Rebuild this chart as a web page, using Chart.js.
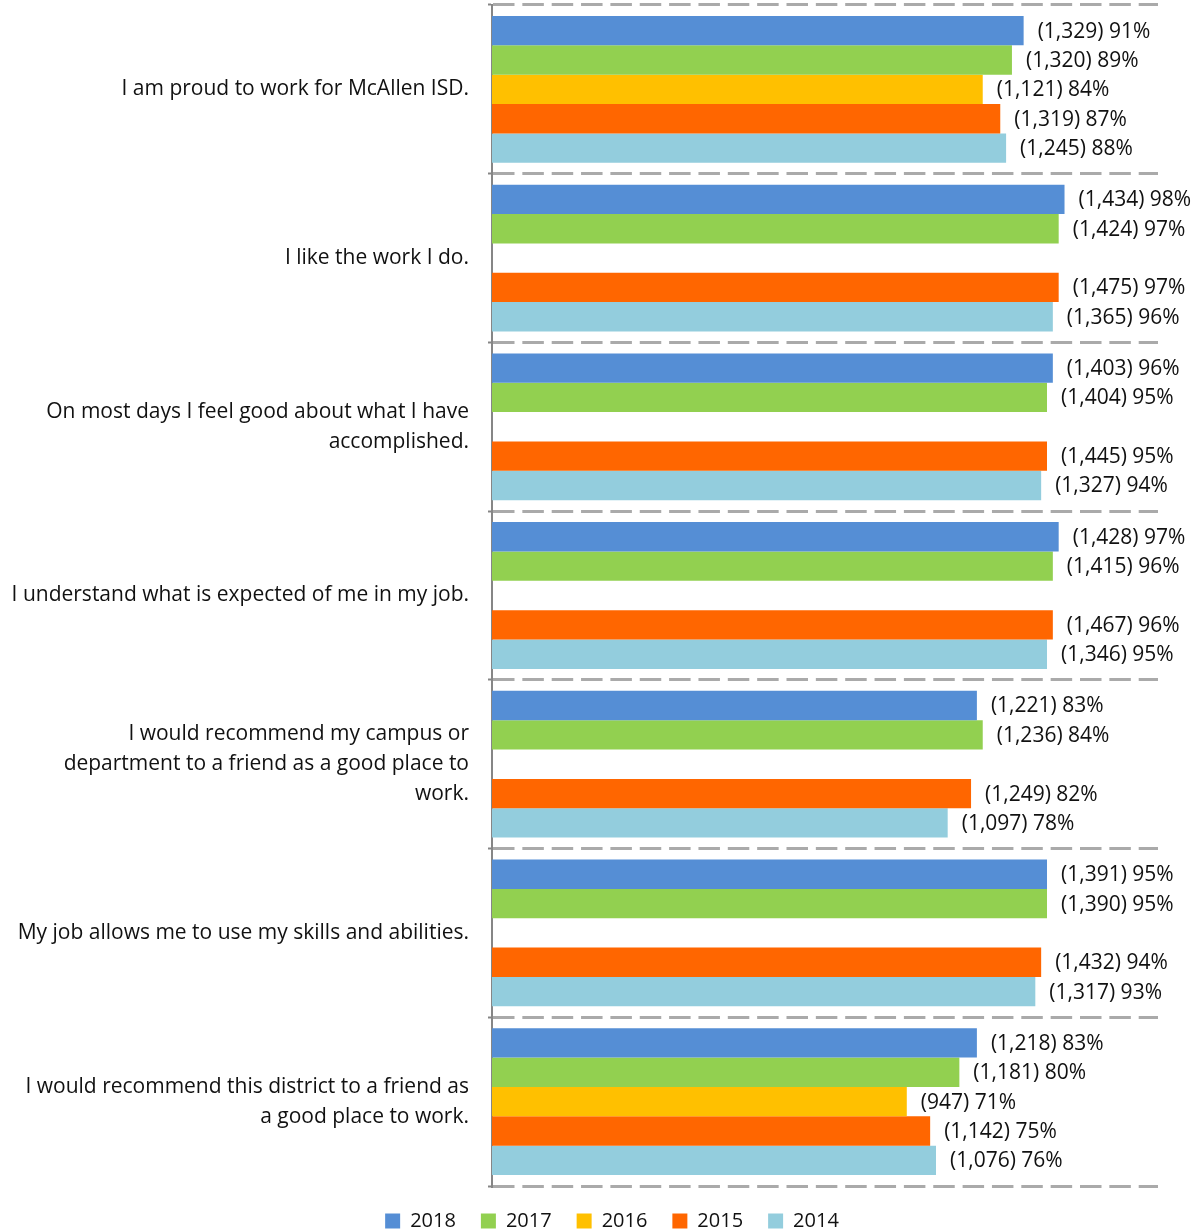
<!DOCTYPE html>
<html>
<head>
<meta charset="utf-8">
<script src="https://cdn.jsdelivr.net/npm/chart.js@4.4.1/dist/chart.umd.min.js"></script>
<style>
  html, body { margin: 0; padding: 0; background: #fff; }
  #wrap { width: 1195px; height: 1232px; }
</style>
</head>
<body>
<div id="wrap"><canvas id="survey" width="1195" height="1232"></canvas></div>
<script>
// survey statements (multi-line labels)
const statements = [
  'I am proud to work for McAllen ISD.',
  'I like the work I do.',
  ['On most days I feel good about what I have', 'accomplished.'],
  'I understand what is expected of me in my job.',
  ['I would recommend my campus or', 'department to a friend as a good place to', 'work.'],
  'My job allows me to use my skills and abilities.',
  ['I would recommend this district to a friend as', 'a good place to work.']
];

const years = ['2018', '2017', '2016', '2015', '2014'];

// percent agreeing
const pct2018 = [91, 98, 96, 97, 83, 95, 83];
const pct2017 = [89, 97, 95, 96, 84, 95, 80];
const pct2016 = [84, null, null, null, null, null, 71];
const pct2015 = [87, 97, 95, 96, 82, 94, 75];
const pct2014 = [88, 96, 94, 95, 78, 93, 76];

// number of respondents agreeing
const count2018 = [1329, 1434, 1403, 1428, 1221, 1391, 1218];
const count2017 = [1320, 1424, 1404, 1415, 1236, 1390, 1181];
const count2016 = [1121, null, null, null, null, null, 947];
const count2015 = [1319, 1475, 1445, 1467, 1249, 1432, 1142];
const count2014 = [1245, 1365, 1327, 1346, 1097, 1317, 1076];

const colors = ['#558ed5', '#92d050', '#ffc000', '#ff6600', '#93cddd'];
const pcts = [pct2018, pct2017, pct2016, pct2015, pct2014];
const counts = [count2018, count2017, count2016, count2015, count2014];

const FONT = '"Open Sans", sans-serif';

// writes "(count) pct%" just past the end of each bar
const barLabels = {
  id: 'barLabels',
  afterDatasetsDraw(chart) {
    const ctx = chart.ctx;
    ctx.save();
    ctx.font = '21px ' + FONT;
    ctx.fillStyle = '#111';
    ctx.textAlign = 'left';
    ctx.textBaseline = 'middle';
    chart.data.datasets.forEach((ds, i) => {
      const meta = chart.getDatasetMeta(i);
      meta.data.forEach((bar, j) => {
        if (ds.data[j] == null) return;
        const n = counts[i][j].toLocaleString('en-US');
        ctx.fillText('(' + n + ') ' + ds.data[j] + '%', bar.x + 14, bar.y + 1);
      });
    });
    ctx.restore();
  }
};

// legend sits a bit right of the canvas centre, under the bars
const legendShift = {
  id: 'legendShift',
  afterLayout(chart) {
    chart.legend.left += 33;
    chart.legend.right += 33;
  }
};

new Chart(document.getElementById('survey'), {
  type: 'bar',
  data: {
    labels: statements,
    datasets: years.map((y, i) => ({
      label: y,
      data: pcts[i],
      backgroundColor: colors[i],
      borderWidth: 0,
      categoryPercentage: 0.87,
      barPercentage: 1.0
    }))
  },
  options: {
    indexAxis: 'y',
    responsive: false,
    animation: false,
    devicePixelRatio: 1,
    layout: { padding: { top: 5, right: 37, bottom: -9, left: 0 } },
    scales: {
      x: {
        display: false,
        min: 0,
        max: 114
      },
      y: {
        afterFit: s => {
          s.width = 492;
          s.paddingTop = 0;
          s.paddingBottom = 0;
        },
        grid: {
          color: '#aaaaaa',
          lineWidth: 3,
          tickLength: 4,
          tickColor: '#868686',
          tickWidth: 2
        },
        border: { color: '#868686', width: 2, dash: [21.5, 7.85] },
        ticks: {
          color: '#111',
          padding: 19,
          font: { family: FONT, size: 21, lineHeight: 1.43 }
        }
      }
    },
    plugins: {
      legend: {
        position: 'bottom',
        labels: {
          color: '#111',
          boxWidth: 15,
          boxHeight: 15,
          padding: 25,
          font: { family: FONT, size: 20 }
        }
      },
      tooltip: { enabled: false }
    }
  },
  plugins: [barLabels, legendShift]
});
</script>
</body>
</html>
